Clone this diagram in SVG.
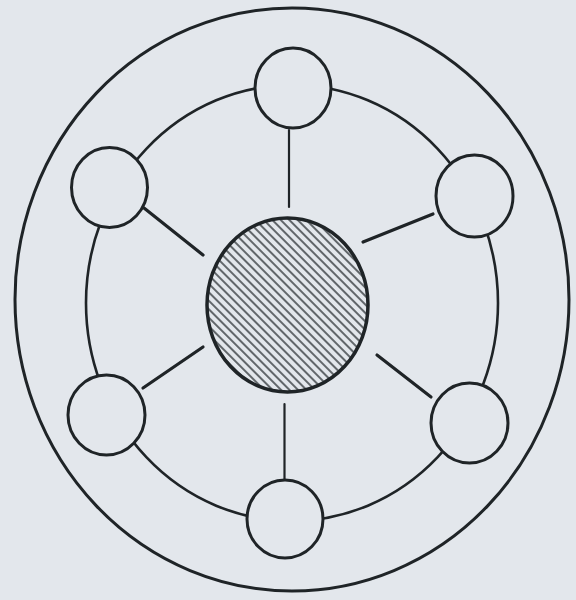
<svg xmlns="http://www.w3.org/2000/svg" width="576" height="600" viewBox="0 0 576 600">
  <defs>
    <pattern id="hatch" patternUnits="userSpaceOnUse" width="6" height="6" patternTransform="rotate(-45)">
      <rect width="6" height="6" fill="#e3e7ec"/>
      <line x1="1" y1="-1" x2="1" y2="7" stroke="#2a2f33" stroke-width="1.4"/>
    </pattern>
    <style>
      .ln { fill: none; stroke: #1f2427; }
      .node { fill: #e3e7ec; stroke: #1f2427; stroke-width: 3; }
      .spoke { stroke: #1f2427; stroke-linecap: round; }
    </style>
  </defs>
  <rect width="576" height="600" fill="#e3e7ec"/>

  <g id="outer">
    <ellipse class="ln" cx="292" cy="299.5" rx="277" ry="291.5" stroke-width="3"/>
  </g>
  <g id="ring">
    <ellipse class="ln" cx="292" cy="303" rx="206" ry="218" stroke-width="2.6"/>
  </g>

  <g id="connectors">
    <line class="spoke" x1="289" y1="130" x2="289" y2="207" stroke-width="2.2"/>
    <line class="spoke" x1="144" y1="208" x2="203" y2="255" stroke-width="3.2"/>
    <line class="spoke" x1="433" y1="214" x2="363" y2="242" stroke-width="3.2"/>
    <line class="spoke" x1="203" y1="347" x2="143" y2="388" stroke-width="3.2"/>
    <line class="spoke" x1="377" y1="355" x2="431" y2="397" stroke-width="3.2"/>
    <line class="spoke" x1="284.5" y1="404" x2="284.5" y2="480" stroke-width="2.2"/>
  </g>

  <g id="center">
    <ellipse cx="287.5" cy="305" rx="80.5" ry="87" fill="url(#hatch)" stroke="#1f2427" stroke-width="3.5"/>
  </g>

  <g id="node-top"><ellipse class="node" cx="293" cy="88" rx="38" ry="40"/></g>
  <g id="node-upper-left"><ellipse class="node" cx="109.5" cy="187.5" rx="38" ry="40"/></g>
  <g id="node-upper-right"><ellipse class="node" cx="474.5" cy="196" rx="38.5" ry="41"/></g>
  <g id="node-lower-left"><ellipse class="node" cx="106.5" cy="415" rx="38.5" ry="40"/></g>
  <g id="node-lower-right"><ellipse class="node" cx="469.5" cy="423" rx="38.5" ry="40"/></g>
  <g id="node-bottom"><ellipse class="node" cx="285" cy="519" rx="38" ry="39"/></g>
</svg>
